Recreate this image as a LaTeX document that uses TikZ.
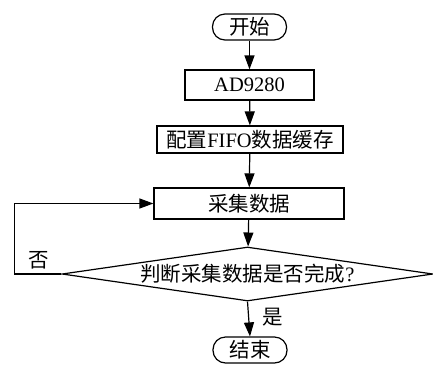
\documentclass[tikz,border=0pt]{standalone}
\usepackage{fontspec}
\setmainfont{Liberation Serif}
\newfontfamily\cjk{Noto Sans CJK SC}
\usetikzlibrary{shapes.geometric, arrows.meta}

\begin{document}
\begin{tikzpicture}[x=1pt, y=1pt, line width=1.2pt,
    >={Triangle[length=14pt, width=10pt]},
    every node/.style={font=\fontsize{20.5}{24}\selectfont, inner sep=0pt},
    procbox/.style={draw, rectangle},
    termbox/.style={draw, rectangle, rounded corners=12.5pt, minimum width=74pt, minimum height=26pt},
    judgebox/.style={draw, diamond, aspect=7, minimum width=371pt, minimum height=54pt}]
               \useasboundingbox (0,0) rectangle (433,-365);
               % main column
               \node[termbox] (start) at (249.5,-27) {\cjk 开始};
               \node[procbox, minimum width=129pt, minimum height=30pt] (ad) at (249.5,-85) {AD9280};
               \node[procbox, minimum width=186pt, minimum height=27pt] (fifo) at (250,-139.5) {{\cjk 配置}FIFO{\cjk 数据缓存}};
               \node[procbox, minimum width=190pt, minimum height=31pt] (collect) at (249,-203.5) {\cjk 采集数据};
               \node[judgebox] (judge) at (247.5,-274) {{\cjk 判断采集数据是否完成}?};
               \node[termbox] (stop) at (250,-350) {\cjk 结束};
               \draw[->] (start) -- (ad);
               \draw[->] (ad) -- (fifo);
               \draw[->] (fifo) -- (collect);
               \draw[->] (collect) -- (judge);
               \draw[->] (judge.south) -- node[right=13pt, pos=0.44]{\cjk 是} (stop.north);
               % loop back when not finished
               \draw[->] (judge.west) -- node[above=4pt, pos=0.48]{\cjk 否} ++(-47,0) |- (collect.west);
          \end{tikzpicture}
\end{document}
